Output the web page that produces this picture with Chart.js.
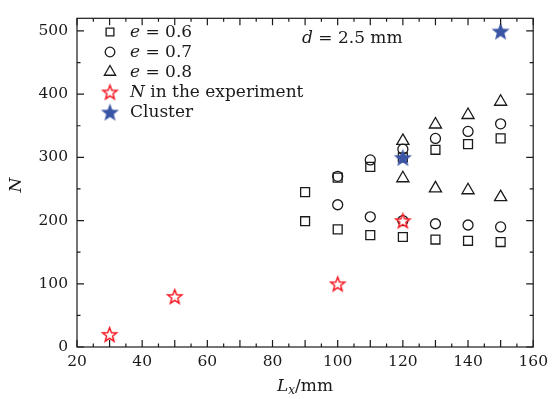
<!DOCTYPE html>
<html>
<head>
<meta charset="utf-8">
<script src="https://cdn.jsdelivr.net/npm/chart.js@4/dist/chart.umd.min.js"></script>
<style>
  html, body { margin: 0; padding: 0; background: #fff; }
  #wrap { position: relative; width: 554px; height: 399px; }
</style>
</head>
<body>
<div id="wrap"><canvas id="c"></canvas></div>
<script>
/* ---- data ---- */
const LX_06 = [90, 100, 110, 120, 130, 140, 150];
const N_06_UP = [245, 268, 285, 300, 312, 321, 330];
const N_06_LO = [199, 186, 177, 174, 170, 168, 166];
const LX_07 = [100, 110, 120, 130, 140, 150];
const N_07_UP = [270, 296, 313, 330, 341, 353];
const N_07_LO = [225, 206, 200, 195, 193, 190];
const LX_08 = [120, 130, 140, 150];
const N_08_UP = [326, 352, 367, 388];
const N_08_LO = [267, 251, 248, 237];
const LX_EXP = [30, 50, 100, 120];
const N_EXP = [20, 80, 100, 200];
const LX_CL = [120, 150];
const N_CL = [300, 500];
const X_LABELS = [20, 40, 60, 80, 100, 120, 140, 160];
const Y_LABELS = [0, 100, 200, 300, 400, 500];

const SERIF = '"DejaVu Serif", "Liberation Serif", serif';
const FS = 15.5;   // tick labels
const FT = 17;     // legend / titles
const INK = '#1a1a1a';
const RED = '#f50f19', BLUE = '#3a54a6';

const pts = (xs, ...ys) => ys.flatMap(arr => arr.map((y, i) => ({ x: xs[i], y })));

// 5-point star as point image
function star(r, fill, stroke, lw) {
  const s = Math.ceil(r * 2 + lw + 4);
  const c = document.createElement('canvas');
  c.width = c.height = s;
  const g = c.getContext('2d');
  g.translate(s / 2, s / 2 + r * 0.1);
  g.beginPath();
  for (let k = 0; k < 10; k++) {
    const rr = k % 2 ? r * 0.42 : r;
    const a = -Math.PI / 2 + k * Math.PI / 5;
    g.lineTo(rr * Math.cos(a), rr * Math.sin(a));
  }
  g.closePath();
  g.fillStyle = fill; g.fill();
  if (stroke) { g.lineWidth = lw; g.strokeStyle = stroke; g.lineJoin = 'miter'; g.stroke(); }
  return c;
}
const STAR_RED = star(7.5, '#fff', RED, 1.4);
const STAR_BLUE = star(9.5, BLUE, null, 0);

const datasets = [
  { label: 'Cluster', data: pts(LX_CL, N_CL), pointStyle: STAR_BLUE },
  { label: 'exp', data: pts(LX_EXP, N_EXP), pointStyle: STAR_RED },
  { label: 'e06', data: pts(LX_06, N_06_UP, N_06_LO), pointStyle: 'rect', pointRadius: 6.3, borderColor: INK, backgroundColor: 'rgba(255,255,255,0)', borderWidth: 1.3 },
  { label: 'e07', data: pts(LX_07, N_07_UP, N_07_LO), pointStyle: 'circle', pointRadius: 5, borderColor: INK, backgroundColor: 'rgba(255,255,255,0)', borderWidth: 1.3 },
  { label: 'e08', data: pts(LX_08, N_08_UP, N_08_LO), pointStyle: 'triangle', pointRadius: 7, borderColor: INK, backgroundColor: 'rgba(255,255,255,0)', borderWidth: 1.3 },
];

// legend rows: marker + text pieces (italic flag)
const LEGEND = [
  [2, [['e', true], [' = 0.6', false]]],
  [3, [['e', true], [' = 0.7', false]]],
  [4, [['e', true], [' = 0.8', false]]],
  [1, [['N', true], [' in the experiment', false]]],
  [0, [['Cluster', false]]],
];

function pieces(ctx, x, y, parts, size) {
  parts.forEach(([t, it]) => {
    ctx.font = (it ? 'italic ' : '') + size + 'px ' + SERIF;
    ctx.fillText(t, x, y);
    x += ctx.measureText(t).width;
  });
}

const frame = {
  id: 'frame',
  afterDraw(c) {
    const { ctx, chartArea: a } = c;
    const xs = c.scales.x, ys = c.scales.y;
    ctx.save();
    ctx.strokeStyle = INK; ctx.lineWidth = 1.2;
    ctx.strokeRect(a.left, a.top, a.right - a.left, a.bottom - a.top);
    ctx.beginPath();
    for (let v = 20; v <= 160; v += 5) {
      const p = xs.getPixelForValue(v), L = v % 10 === 0 ? 7 : 3.5;
      ctx.moveTo(p, a.bottom); ctx.lineTo(p, a.bottom - L);
      ctx.moveTo(p, a.top); ctx.lineTo(p, a.top + L);
    }
    for (let v = 0; v <= 500; v += 50) {
      const p = ys.getPixelForValue(v), L = v % 100 === 0 ? 7 : 3.5;
      ctx.moveTo(a.left, p); ctx.lineTo(a.left + L, p);
      ctx.moveTo(a.right, p); ctx.lineTo(a.right - L, p);
    }
    ctx.stroke();

    // legend
    ctx.textBaseline = 'middle';
    LEGEND.forEach(([di, parts], i) => {
      const y = 32 + i * 20;
      const ds = c.data.datasets[di];
      ctx.strokeStyle = ds.borderColor || INK; ctx.fillStyle = ds.backgroundColor || INK;
      ctx.lineWidth = 1.3;
      const st = ds.pointStyle;
      if (typeof st === 'string') {
        Chart.helpers.drawPoint(ctx, { pointStyle: st, radius: st === 'rect' ? 5.5 : st === 'triangle' ? 6.5 : 4.8, borderWidth: 1.3 }, 110, y);
      } else {
        ctx.drawImage(st, 110 - st.width / 2, y - st.height / 2);
      }
      ctx.fillStyle = INK;
      pieces(ctx, 130, y + 1, parts, FT);
    });

    // annotation
    pieces(ctx, 302, 39, [['d', true], [' = 2.5 mm', false]], FT);

    // axis titles
    ctx.textBaseline = 'alphabetic';
    const segs = [['L', 'italic ' + FT + 'px ', 0], ['x', 'italic ' + 12 + 'px ', 3], ['/mm', FT + 'px ', 0]];
    let tw = 0;
    segs.forEach(s => { ctx.font = s[1] + SERIF; tw += ctx.measureText(s[0]).width; });
    let x = 305 - tw / 2;
    segs.forEach(s => { ctx.font = s[1] + SERIF; ctx.fillText(s[0], x, 391 + s[2]); x += ctx.measureText(s[0]).width; });

    ctx.translate(21, 185); ctx.rotate(-Math.PI / 2);
    ctx.textAlign = 'center';
    ctx.font = 'italic ' + FT + 'px ' + SERIF;
    ctx.fillText('N', 0, 0);
    ctx.restore();
  },
};

new Chart(document.getElementById('c'), {
  type: 'scatter',
  data: { datasets },
  options: {
    responsive: true, maintainAspectRatio: false, animation: false,
    layout: { padding: { top: 9, right: 17, left: 0, bottom: 0 } },
    plugins: { legend: { display: false }, tooltip: { enabled: false } },
    scales: {
      x: {
        min: 20, max: 160,
        afterFit: s => { s.height = 52; },
        afterBuildTicks: s => { s.ticks = X_LABELS.map(v => ({ value: v })); },
        grid: { display: false, drawTicks: false }, border: { display: false },
        ticks: { autoSkip: false, maxRotation: 0, padding: 6, color: INK, font: { family: SERIF, size: FS } },
      },
      y: {
        min: 0, max: 520,
        afterFit: s => { s.width = 77; },
        afterBuildTicks: s => { s.ticks = Y_LABELS.map(v => ({ value: v })); },
        grid: { display: false, drawTicks: false }, border: { display: false },
        ticks: { padding: 9, color: INK, font: { family: SERIF, size: FS } },
      },
    },
  },
  plugins: [frame],
});
</script>
</body>
</html>
